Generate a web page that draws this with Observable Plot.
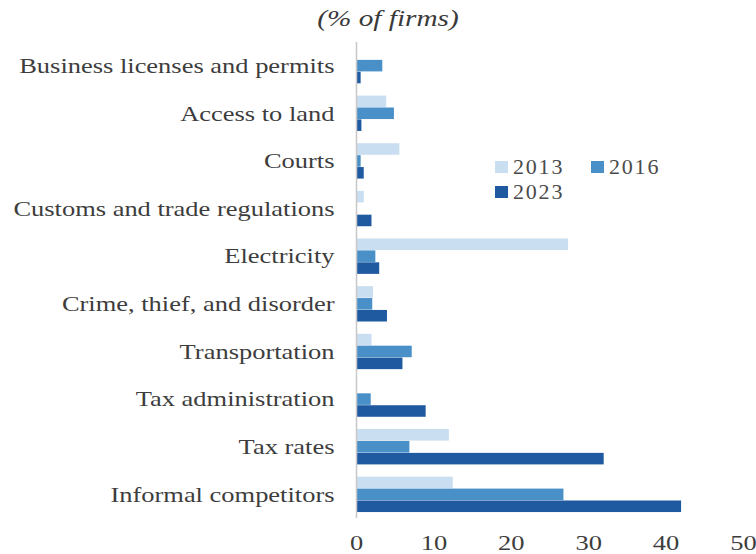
<!DOCTYPE html>
<html>
<head>
<meta charset="utf-8">
<script src="https://cdn.jsdelivr.net/npm/d3@7"></script>
<script src="https://cdn.jsdelivr.net/npm/@observablehq/plot@0.6"></script>
<style>
  html, body { margin: 0; padding: 0; background: #fff; }
  #wrap { position: relative; width: 756px; height: 554px; overflow: hidden; }
  #title { position: absolute; left: 0; width: 776px; top: 5px; text-align: center;
           font-family: "Liberation Serif", serif; font-style: italic; font-size: 24px; color: #3a3a3a; }
  #title span { display: inline-block; transform: scaleX(1.22); }
  #legend { position: absolute; left: 495px; top: 154px; font-family: "Liberation Serif", serif;
            font-size: 22px; color: #4a4a4a; letter-spacing: 1.8px; }
  .item { position: absolute; white-space: nowrap; display: flex; align-items: center; }
  .sw { display: inline-block; width: 13px; height: 12px; margin-right: 5px; }
</style>
</head>
<body>
<div id="wrap">
  <div id="chart"></div>
  <div id="title"><span>(% of firms)</span></div>
  <div id="legend"></div>
</div>
<script>
const categories = [
  "Business licenses and permits",
  "Access to land",
  "Courts",
  "Customs and trade regulations",
  "Electricity",
  "Crime, thief, and disorder",
  "Transportation",
  "Tax administration",
  "Tax rates",
  "Informal competitors"
];
const years = ["2013", "2016", "2023"];
const v2013 = [0, 3.9, 5.6, 1, 27.4, 2.2, 2, 0, 12, 12.5];
const v2016 = [3.4, 4.9, 0.6, 0, 2.5, 2.1, 7.2, 1.9, 6.9, 26.8];
const v2023 = [0.6, 0.7, 1, 2, 3, 4, 6, 9, 32, 42];
const xTicks = [0, 10, 20, 30, 40, 50];
const colors = ["#c9def0", "#4990c9", "#1f5aa0"];

const series = {"2013": v2013, "2016": v2016, "2023": v2023};
const data = [];
categories.forEach((c, i) => years.forEach(y => data.push({category: c, year: y, value: series[y][i], key: c + "|" + y})));

const domain = [];
categories.forEach((c, i) => {
  years.forEach(y => domain.push(c + "|" + y));
  if (i < categories.length - 1) domain.push(c + "|gap");
});
const midKeys = categories.map(c => c + "|2016");

const chart = Plot.plot({
  width: 756,
  height: 554,
  marginTop: 42,
  marginBottom: 36,
  marginLeft: 356,
  marginRight: 13,
  style: {fontFamily: "Liberation Serif, serif", fontSize: "21px", color: "#3d3d3d", background: "#fff"},
  x: {domain: [0, 50], ticks: xTicks, tickSize: 0, tickPadding: 17, label: null},
  y: {domain, ticks: midKeys, tickFormat: k => k.split("|")[0], tickSize: 0, tickPadding: 22,
      paddingInner: 0.03, paddingOuter: 0.5, label: null},
  color: {domain: years, range: colors},
  marks: [
    Plot.barX(data, {x: "value", y: "key", fill: "year"}),
    Plot.ruleX([0], {stroke: "#c8c8c8", strokeWidth: 1.5})
  ]
});
document.getElementById("chart").appendChild(chart);

// widen glyphs to mimic the reference's wide Garamond-like face
chart.querySelectorAll("text").forEach(t => {
  const w = t.getComputedTextLength();
  if (w > 0) {
    t.setAttribute("textLength", (w * 1.26).toFixed(1));
    t.setAttribute("lengthAdjust", "spacingAndGlyphs");
  }
});

const legend = document.getElementById("legend");
const pos = [[0, 0], [96, 0], [0, 25]];
years.forEach((y, i) => {
  const d = document.createElement("div");
  d.className = "item";
  d.style.left = pos[i][0] + "px";
  d.style.top = pos[i][1] + "px";
  d.innerHTML = `<span class="sw" style="background:${colors[i]}"></span>${y}`;
  legend.appendChild(d);
});
</script>
</body>
</html>
